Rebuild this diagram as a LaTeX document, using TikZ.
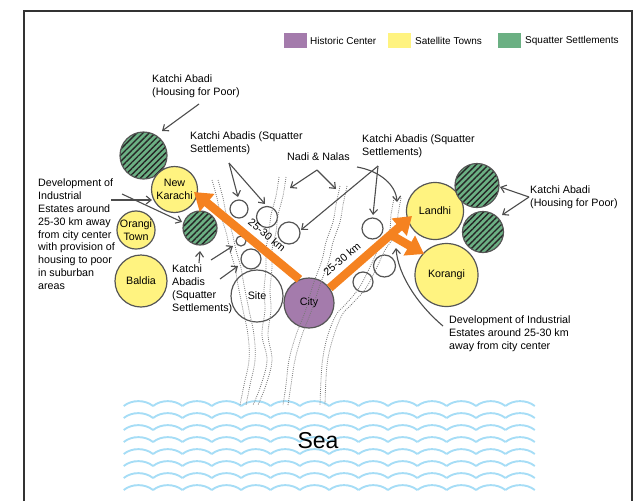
\documentclass[tikz,border=0pt]{standalone}
\usepackage{fontspec}
\setmainfont{Liberation Sans}
\usetikzlibrary{arrows.meta,patterns.meta,calc}
\definecolor{purpc}{HTML}{A47BAC}
\definecolor{yellc}{HTML}{FFF380}
\definecolor{greenc}{HTML}{6BB083}
\definecolor{orangec}{HTML}{F58220}
\definecolor{ringc}{HTML}{555555}
\definecolor{annc}{HTML}{4D4D4D}
\definecolor{seac}{HTML}{A6DDF6}
\definecolor{rivc}{HTML}{7A7A7A}
\definecolor{framec}{HTML}{333333}
\begin{document}
\begin{tikzpicture}[x=1pt,y=-1pt,
  font=\fontsize{10.7}{12.8}\selectfont,
  ring/.style={circle, draw=ringc, line width=1.2pt, inner sep=0pt, align=center},
  town/.style={ring, fill=yellc},
  hatchc/.style={ring, preaction={fill=greenc}, pattern={Lines[angle=45,distance=4.3pt,line width=1.4pt]}, pattern color=black!85},
  citystyle/.style={ring, fill=purpc},
  riv/.style={draw=rivc, line width=0.8pt, dash pattern=on 0.9pt off 1.2pt},
  oarr/.style={draw=orangec, line width=8.5pt, -{Triangle[length=17pt,width=22pt]}},
  ann/.style={draw=annc, line width=1.1pt, -{Straight Barb[length=5pt,width=8pt]}},
  lbl/.style={anchor=north west, inner sep=0pt, align=left},
  wave/.style={draw=seac, line width=1.9pt},
  legsq/.style={inner sep=0pt, minimum width=23pt, minimum height=15pt},
  legtx/.style={anchor=west, inner sep=0pt, font=\fontsize{10}{12}\selectfont}
]
\useasboundingbox (0,0) rectangle (636,501);

% frame
\draw[framec, line width=2.2pt] (24,501) -- (24,11) -- (632,11) -- (632,501);

% legend
\node[legsq, fill=purpc] (lg1) at (295,40.5) {};
\node[legtx] (lt1) at (310,41) {Historic Center};
\node[legsq, fill=yellc] (lg2) at (399.5,40.5) {};
\node[legtx] (lt2) at (415,41) {Satellite Towns};
\node[legsq, fill=greenc] (lg3) at (509.5,40.5) {};
\node[legtx] (lt3) at (525,41) {Squatter Settlements};

% sea
\foreach \r in {0,...,7}{\foreach \k in {0,...,13}{
  \pgfmathsetmacro\xa{123.7+29.36*\k}
  \pgfmathsetmacro\ya{406+12*\r}
  \draw[wave] (\xa,\ya) .. controls (\xa+8,\ya-6.5) and (\xa+21.36,\ya-6.5) .. (\xa+29.36,\ya);
}}
\node[font=\fontsize{23}{26}\selectfont, inner sep=1pt] (sea) at (318,441) {Sea};

% circles
\node[hatchc, minimum size=47pt] (gTL) at (143.5,155.5) {};
\node[town, minimum size=46pt] (NK) at (174.5,189.5) {New\\Karachi};
\node[town, minimum size=37pt] (OT) at (136,230) {Orangi\\Town};
\node[town, minimum size=52pt] (BA) at (141,281) {Baldia};
\node[hatchc, minimum size=34pt] (gS) at (200,228) {};
\node[ring, minimum size=18pt] (w1) at (239,209) {};
\node[ring, minimum size=21pt] (w2) at (267,217) {};
\node[ring, minimum size=22pt] (w3) at (289,233) {};
\node[ring, minimum size=10pt] (w4) at (241,241) {};
\node[ring, minimum size=20pt] (w5) at (251,259) {};
\node[ring, minimum size=52pt] (SI) at (257,296) {Site};
\node[citystyle, minimum size=50pt] (CI) at (309,303) {City};
\node[ring, minimum size=21pt] (w6) at (372.5,228.5) {};
\node[ring, minimum size=22pt] (w7) at (384.5,266) {};
\node[ring, minimum size=20pt] (w8) at (363,282) {};
\node[town, minimum size=57pt] (LA) at (435,211) {Landhi};
\node[town, minimum size=63pt] (KO) at (446.5,275) {Korangi};
\node[hatchc, minimum size=44pt] (gR1) at (477,185.5) {};
\node[hatchc, minimum size=41pt] (gR2) at (483,232) {};

% rivers (nadi & nalas)
\draw[riv] plot[smooth, tension=0.6] coordinates {(212,180) (217,198) (220,213) (226,232) (230,250) (235,268) (238,285) (243,310) (248,335) (249,360) (244,385) (240,405)};
\draw[riv] plot[smooth, tension=0.6] coordinates {(218,180) (223,198) (226,213) (232,232) (236,250) (241,268) (244,285) (249,310) (254,335) (255,360) (250,385) (246,405)};
\draw[riv] plot[smooth, tension=0.6] coordinates {(279,177) (276,196) (271,215) (269,232) (266,250) (266,268) (264,290) (265,310) (262,335) (267,360) (261,385) (253,405)};
\draw[riv] plot[smooth, tension=0.6] coordinates {(286,177) (283,196) (278,215) (276,232) (272,250) (272,268) (270,290) (271,310) (268,335) (272,360) (266,385) (258,405)};
\draw[riv] plot[smooth, tension=0.6] coordinates {(340,186) (336,205) (333,222) (326,242) (322,260) (313,285) (305,312) (296,335) (289,360) (286,385) (283,405)};
\draw[riv] plot[smooth, tension=0.6] coordinates {(347,186) (343,205) (340,222) (333,242) (329,260) (320,285) (311,312) (302,335) (295,360) (291,385) (288,405)};
\draw[riv] plot[smooth, tension=0.6] coordinates {(394,198) (391,215) (389,233) (378,250) (371,265) (359,288) (345,305) (336,315) (327,338) (322,365) (320,405)};
\draw[riv] plot[smooth, tension=0.6] coordinates {(401,198) (398,215) (396,233) (385,250) (378,265) (366,288) (351,305) (342,315) (333,338) (327,365) (325,405)};

% orange arrows
\coordinate (tipNK) at (194,192);
\coordinate (tipLA) at (412,216);
\coordinate (tipKO) at (424,254);
\draw[oarr] (CI.112) -- (tipNK);
\draw[oarr] (CI.36) -- (tipLA);
\coordinate (brS) at ($(CI.36)!0.74!(tipLA)$);
\draw[oarr] (brS) -- (tipKO);
\node[rotate=-40, inner sep=0pt] (km1) at (267,235) {25-30 km};
\node[rotate=40, inner sep=0pt] (km2) at (342,259) {25-30 km};

% labels
\node[lbl] (T1) at (152,75) {Katchi Abadi\\(Housing for Poor)};
\node[lbl] (T2) at (190,132) {Katchi Abadis (Squatter\\Settlements)};
\node[lbl] (T3) at (287,153) {Nadi \& Nalas};
\node[lbl] (T4) at (362,135) {Katchi Abadis (Squatter\\Settlements)};
\node[lbl] (T5) at (38,179) {Development of\\Industrial\\Estates around\\25-30 km away\\from city center\\with provision of\\housing to poor\\in suburban\\areas};
\node[lbl] (T6) at (172,265) {Katchi\\Abadis\\(Squatter\\Settlements)};
\node[lbl] (T7) at (530,186) {Katchi Abadi\\(Housing for Poor)};
\node[lbl] (T8) at (449,316) {Development of Industrial\\Estates around 25-30 km\\away from city center};

% annotation arrows
\coordinate (a1s) at (199,104); \coordinate (a1e) at (162,131);
\draw[ann] (a1s) -- (a1e);
\coordinate (a2) at (229,163); \coordinate (a2e1) at (238,197); \coordinate (a2e2) at (265,204);
\draw[ann] (a2) -- (a2e1); \draw[ann] (a2) -- (a2e2);
\coordinate (a3) at (317,170); \coordinate (a3e1) at (290,188); \coordinate (a3e2) at (336,189);
\draw[ann] (a3) -- (a3e1); \draw[ann] (a3) -- (a3e2);
\coordinate (a4) at (378,166); \coordinate (a4e1) at (301,230); \coordinate (a4e2) at (373,215);
\draw[ann] (a4) -- (a4e1); \draw[ann] (a4) -- (a4e2);
\coordinate (a5s) at (357,167); \coordinate (a5e) at (397,202);
\draw[ann] (a5s) .. controls (380,171) and (396,185) .. (a5e);
\coordinate (a6s) at (111,200); \coordinate (a6e) at (152,200);
\draw[ann] (a6s) -- (a6e);
\coordinate (a7s) at (122,194); \coordinate (a7e) at (182,222);
\draw[ann] (a7s) -- (a7e);
\coordinate (a8s) at (199,263); \coordinate (a8e) at (200,251);
\draw[ann] (a8s) -- (a8e);
\coordinate (a9s) at (211,260); \coordinate (a9e) at (233,246);
\draw[ann] (a9s) -- (a9e);
\coordinate (a10s) at (220,279); \coordinate (a10e) at (238,266);
\draw[ann] (a10s) -- (a10e);
\coordinate (a11) at (529,197); \coordinate (a11e1) at (500,187); \coordinate (a11e2) at (502,215);
\draw[ann] (a11) -- (a11e1); \draw[ann] (a11) -- (a11e2);
\coordinate (a12s) at (443,326); \coordinate (a12e) at (396,248);
\draw[ann] (a12s) .. controls (418,305) and (398,275) .. (a12e);
\end{tikzpicture}
\end{document}
